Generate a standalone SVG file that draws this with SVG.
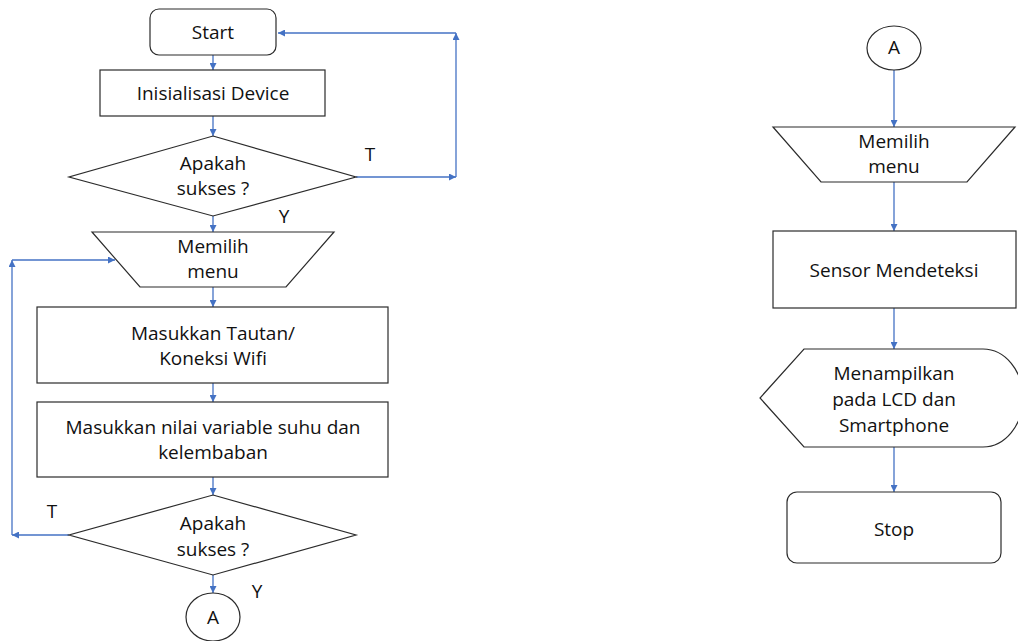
<svg xmlns="http://www.w3.org/2000/svg" width="1018" height="641" viewBox="0 0 1018 641">
<style>
.s{fill:#fff;stroke:#2b2b2b;stroke-width:1.2}
.t{font-family:"Open Sans","Liberation Sans",sans-serif;font-size:19px;fill:#111;text-anchor:middle}
.c{fill:none;stroke:#4472C4;stroke-width:1.3;marker-end:url(#ah)}
</style>
<defs>
<marker id="ah" viewBox="0 0 10 10" refX="10" refY="5" markerWidth="7" markerHeight="7" markerUnits="userSpaceOnUse" orient="auto"><path d="M0,0 L10,5 L0,10 Z" fill="#4472C4"/></marker>
</defs>
<rect width="1018" height="641" fill="#fff"/>
<g id="connectors">
<line class="c" x1="213" y1="55" x2="213" y2="70"/>
<line class="c" x1="213" y1="116" x2="213" y2="136"/>
<line class="c" x1="356" y1="177" x2="456" y2="177"/>
<line class="c" x1="456" y1="177" x2="456" y2="33"/>
<line class="c" x1="456" y1="33" x2="278" y2="33"/>
<line class="c" x1="213" y1="216" x2="213" y2="232"/>
<line class="c" x1="213" y1="287" x2="213" y2="307"/>
<line class="c" x1="213" y1="383" x2="213" y2="402"/>
<line class="c" x1="213" y1="477" x2="213" y2="495"/>
<line class="c" x1="69" y1="535" x2="12" y2="535"/>
<line class="c" x1="12" y1="535" x2="12" y2="260"/>
<line class="c" x1="12" y1="260" x2="115" y2="260"/>
<line class="c" x1="213" y1="575" x2="213" y2="593"/>
<line class="c" x1="894" y1="70" x2="894" y2="127"/>
<line class="c" x1="894" y1="182" x2="894" y2="231"/>
<line class="c" x1="894" y1="308" x2="894" y2="349"/>
<line class="c" x1="894" y1="447" x2="894" y2="492"/>
</g>
<g id="start"><rect class="s" x="150" y="9" width="126" height="46" rx="9"/><text class="t" x="213" y="39">Start</text></g>
<g id="init"><rect class="s" x="100" y="70" width="225" height="46"/><text class="t" x="213" y="100">Inisialisasi Device</text></g>
<g id="dec1"><polygon class="s" points="213,136 356,177 213,216 69,177"/><text class="t" x="213" y="170">Apakah</text><text class="t" x="213" y="195">sukses ?</text></g>
<g id="labels1"><text class="t" x="370" y="161">T</text><text class="t" x="284" y="223">Y</text></g>
<g id="menu1"><polygon class="s" points="92,232 334,232 286,287 140,287"/><text class="t" x="213" y="253">Memilih</text><text class="t" x="213" y="278">menu</text></g>
<g id="tautan"><rect class="s" x="37" y="307" width="351" height="76"/><text class="t" x="213" y="340">Masukkan Tautan/</text><text class="t" x="213" y="365">Koneksi Wifi</text></g>
<g id="nilai"><rect class="s" x="37" y="402" width="351" height="75"/><text class="t" x="213" y="434">Masukkan nilai variable suhu dan</text><text class="t" x="213" y="459">kelembaban</text></g>
<g id="dec2"><polygon class="s" points="213,495 356,535 213,575 69,535"/><text class="t" x="213" y="530">Apakah</text><text class="t" x="213" y="556">sukses ?</text></g>
<g id="labels2"><text class="t" x="52" y="518">T</text><text class="t" x="257" y="598">Y</text></g>
<g id="conA1"><ellipse class="s" cx="213" cy="617" rx="27" ry="24"/><text class="t" x="213" y="624">A</text></g>
<g id="conA2"><ellipse class="s" cx="894" cy="48" rx="27" ry="22"/><text class="t" x="894" y="54">A</text></g>
<g id="menu2"><polygon class="s" points="773,127 1015,127 967,182 821,182"/><text class="t" x="894" y="148">Memilih</text><text class="t" x="894" y="173">menu</text></g>
<g id="sensor"><rect class="s" x="773" y="231" width="243" height="77"/><text class="t" x="894" y="277">Sensor Mendeteksi</text></g>
<g id="display"><path class="s" d="M804,349 L983,349 A40,49 0 0 1 983,447 L804,447 L760,398 Z"/><text class="t" x="894" y="380">Menampilkan</text><text class="t" x="894" y="406">pada LCD dan</text><text class="t" x="894" y="432">Smartphone</text></g>
<g id="stop"><rect class="s" x="787" y="492" width="214" height="71" rx="10"/><text class="t" x="894" y="536">Stop</text></g>
</svg>
